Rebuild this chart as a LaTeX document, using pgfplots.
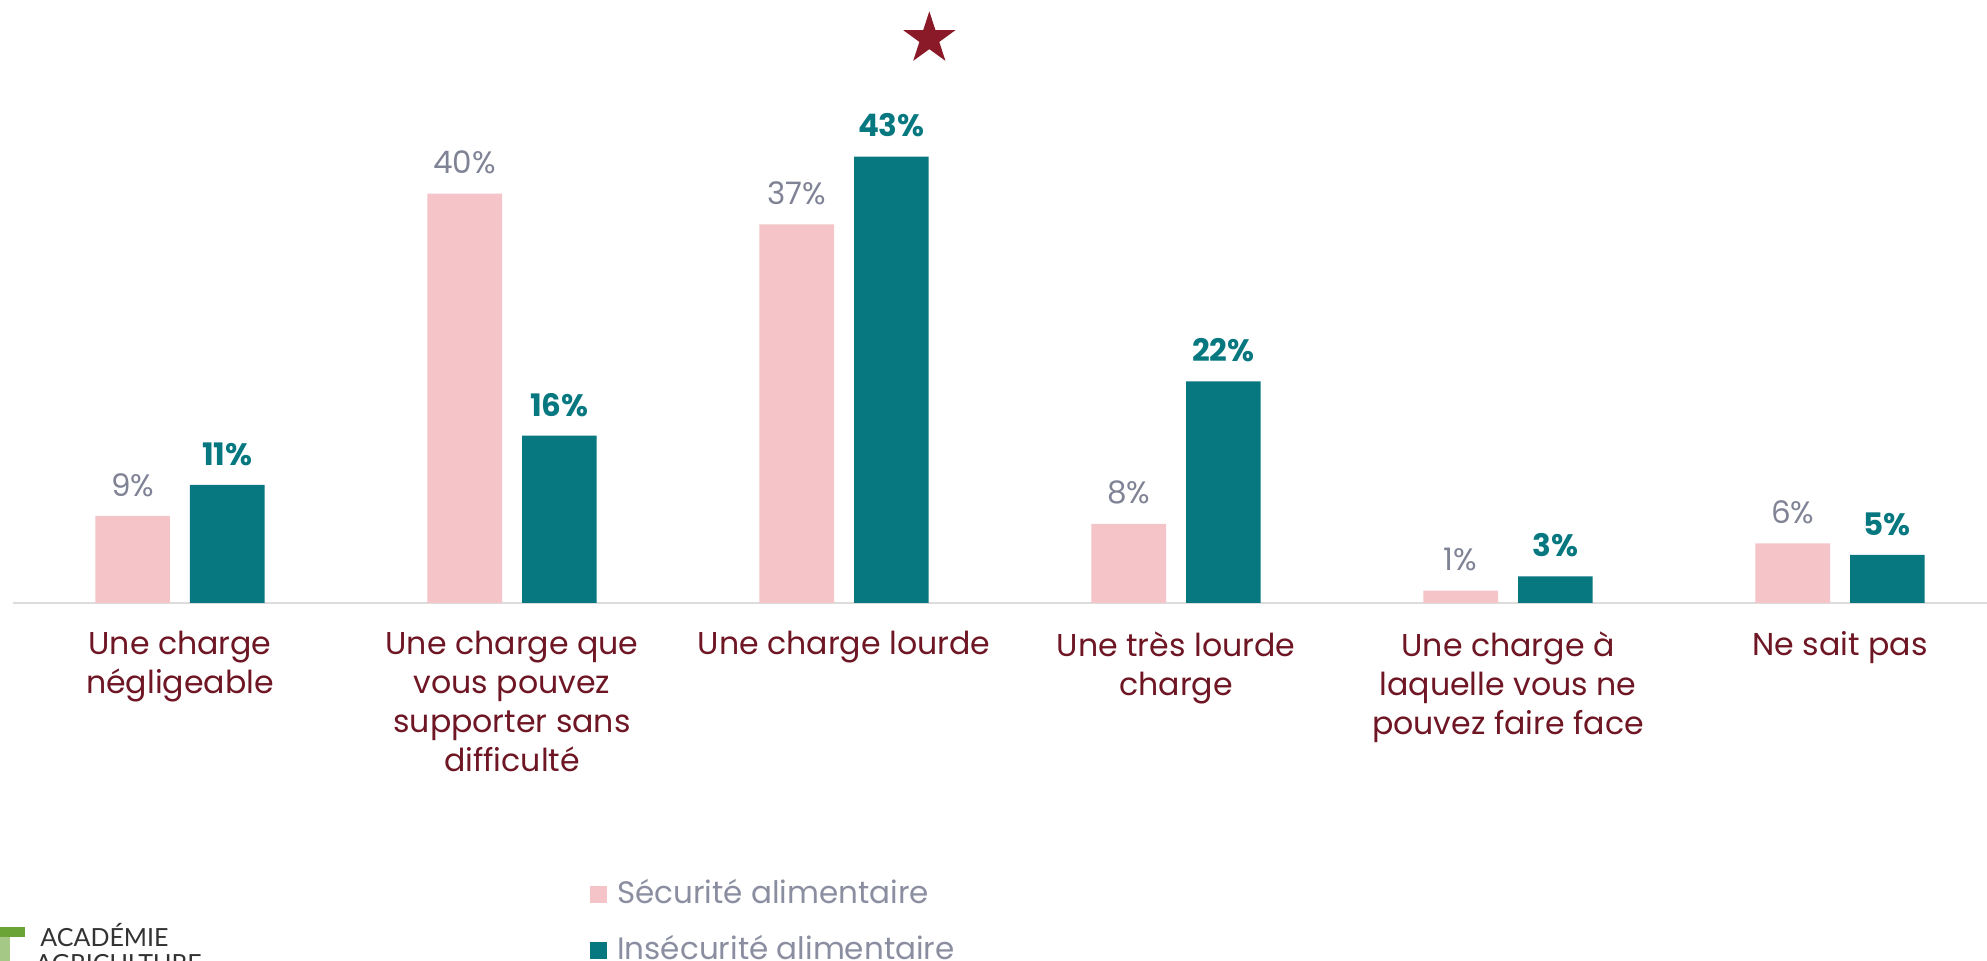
\documentclass[border=0pt]{standalone}
\usepackage{pgfplots}
\pgfplotsset{compat=1.18}
\usepackage{fontspec}
\setmainfont{Poppins}
\newfontfamily\logofont{Lato}
\definecolor{pinkbar}{HTML}{F4C4C8}
\definecolor{tealbar}{HTML}{077780}
\definecolor{vallab}{HTML}{7F8395}
\definecolor{catlab}{HTML}{6E1624}
\definecolor{starred}{HTML}{8B1A28}
\definecolor{leggray}{HTML}{8A8EA0}
\definecolor{axgray}{HTML}{DCDCDC}
\definecolor{logogreen}{HTML}{6AA437}
\pgfdeclareplotmark{fstar}{%
  \pgfpathmoveto{\pgfpointpolar{90}{\pgfplotmarksize}}%
  \pgfpathlineto{\pgfpointpolar{126}{0.382\pgfplotmarksize}}%
  \pgfpathlineto{\pgfpointpolar{162}{\pgfplotmarksize}}%
  \pgfpathlineto{\pgfpointpolar{198}{0.382\pgfplotmarksize}}%
  \pgfpathlineto{\pgfpointpolar{234}{\pgfplotmarksize}}%
  \pgfpathlineto{\pgfpointpolar{270}{0.382\pgfplotmarksize}}%
  \pgfpathlineto{\pgfpointpolar{306}{\pgfplotmarksize}}%
  \pgfpathlineto{\pgfpointpolar{342}{0.382\pgfplotmarksize}}%
  \pgfpathlineto{\pgfpointpolar{18}{\pgfplotmarksize}}%
  \pgfpathlineto{\pgfpointpolar{54}{0.382\pgfplotmarksize}}%
  \pgfpathclose\pgfusepathqfill}
\begin{document}
\begin{tikzpicture}
\begin{axis}[
  at={(6.5pt,179pt)}, anchor=south west,
  x=166pt, y=5.13pt,
  xmin=-0.503, xmax=5.45, ymin=0, ymax=50,
  axis x line*=bottom, axis y line=none,
  axis line style={draw=axgray, line width=1pt},
  xtick={0,1,2,3,4,5},
  xticklabels={{Une charge\\négligeable},{Une charge que\\vous pouvez\\supporter sans\\difficulté},{Une charge lourde},{Une très lourde\\charge},{Une charge à\\laquelle vous ne\\pouvez faire face},{Ne sait pas}},
  major tick length=0pt,
  xticklabel style={font=\fontsize{15.8}{19.5}\selectfont, text=catlab, align=center, inner sep=0pt, anchor=north, yshift=-14pt},
  clip=false,
  legend style={at={(0.2919,-0.538)}, anchor=north west, draw=none, fill=none,
    font=\fontsize{15.5}{18}\selectfont, text=leggray, inner sep=0pt,
    nodes={inner sep=0pt, text height=12pt, text depth=4pt},
    column sep=5pt, row sep=12pt},
  legend cell align=left,
  legend image code/.code={\fill[#1] (0pt,-4pt) rectangle (8.5pt,4.5pt);},
]
\addplot[ybar, bar width=37.35pt, bar shift=-23.675pt, fill=pinkbar, draw=none,
  point meta=explicit symbolic, nodes near coords,
  every node near coord/.append style={font=\fontsize{15.5}{18}\selectfont, text=vallab, anchor=south, inner sep=0pt, xshift=-23.675pt, yshift=9.5pt}]
  coordinates {(0,8.5) [9\%] (1,39.9) [40\%] (2,36.9) [37\%] (3,7.7) [8\%] (4,1.2) [1\%] (5,5.8) [6\%]};
\addlegendentry{Sécurité alimentaire}
\addplot[ybar, bar width=37.35pt, bar shift=23.675pt, fill=tealbar, draw=none,
  point meta=explicit symbolic, nodes near coords,
  every node near coord/.append style={font=\fontsize{15.5}{18}\selectfont\bfseries, text=tealbar, anchor=south, inner sep=0pt, xshift=23.675pt, yshift=9.5pt}]
  coordinates {(0,11.5) [11\%] (1,16.3) [16\%] (2,43.5) [43\%] (3,21.6) [22\%] (4,2.6) [3\%] (5,4.7) [5\%]};
\addlegendentry{Insécurité alimentaire}
\addplot[only marks, mark=fstar, mark size=13.7pt, color=starred, mark options={fill=starred, draw=none}, forget plot]
  coordinates {(2.257,55.0)};
\end{axis}
\fill[logogreen] (0pt,12pt) rectangle (12.5pt,17pt);
\fill[logogreen!60] (0pt,0pt) rectangle (5pt,12pt);
\node[anchor=base west, inner sep=0pt, font=\logofont\fontsize{12.5}{12.5}\selectfont, text=black!80] at (20pt,7pt) {ACADÉMIE};
\node[anchor=base west, inner sep=0pt, font=\logofont\fontsize{12.5}{12.5}\selectfont, text=black!80] at (17.5pt,-6pt) {AGRICULTURE};
\pgfresetboundingbox
\path[use as bounding box] (0,0) rectangle (993.5pt,480.5pt);
\end{tikzpicture}
\end{document}
